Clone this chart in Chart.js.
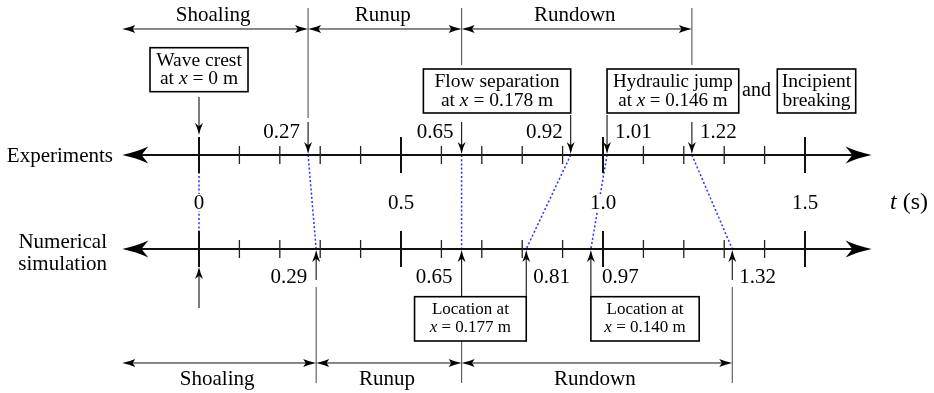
<!DOCTYPE html>
<html>
<head>
<meta charset="utf-8">
<script src="https://cdn.jsdelivr.net/npm/chart.js@4.4.0/dist/chart.umd.min.js"></script>
<style>
  html, body { margin: 0; padding: 0; background: #fff; }
</style>
</head>
<body>
<canvas id="timeline" width="934" height="393"></canvas>
<script>
// event times (s) on the two time lines
const expTimes = [0, 0.27, 0.65, 0.92, 1.01, 1.22];
const simTimes = [0, 0.29, 0.65, 0.81, 0.97, 1.32];
const expLabels = ['', '0.27', '0.65', '0.92', '1.01', '1.22'];
const simLabels = ['', '0.29', '0.65', '0.81', '0.97', '1.32'];

// phases and where they end
const phaseNames = ['Shoaling', 'Runup', 'Rundown'];
const expPhaseEnds = [0.27, 0.65, 1.22];
const simPhaseEnds = [0.29, 0.65, 1.32];

// time axis ticks
const majorTicks = [0, 0.5, 1.0, 1.5];
const majorTickLabels = ['0', '0.5', '1.0', '1.5'];
const minorTicks = [0.1, 0.2, 0.3, 0.4, 0.6, 0.7, 0.8, 0.9, 1.1, 1.2, 1.3, 1.4];
const axisSpan = [-0.19, 1.665];

// row value of each time line on the y scale
const ROW_EXP = 1;
const ROW_SIM = 0;

const SERIF = '"Liberation Serif", "Times New Roman", serif';

// dotted links between matching events
const links = expTimes.map((t, i) => ({
  data: [{ x: t, y: ROW_EXP }, { x: simTimes[i], y: ROW_SIM }],
  showLine: true,
  borderColor: '#2233ff',
  borderWidth: 1.5,
  borderDash: [2, 2.2],
  pointRadius: 0,
  fill: false
}));

function head(ctx, x, y, dx, dy, len, half, notch) {
  const px = -dy, py = dx;
  ctx.beginPath();
  ctx.moveTo(x, y);
  ctx.quadraticCurveTo(x - dx * len * 0.55 + px * half * 0.35, y - dy * len * 0.55 + py * half * 0.35,
                       x - dx * len + px * half, y - dy * len + py * half);
  ctx.lineTo(x - dx * len * notch, y - dy * len * notch);
  ctx.lineTo(x - dx * len - px * half, y - dy * len - py * half);
  ctx.quadraticCurveTo(x - dx * len * 0.55 - px * half * 0.35, y - dy * len * 0.55 - py * half * 0.35, x, y);
  ctx.closePath();
  ctx.fill();
}

function line(ctx, x1, y1, x2, y2, w, color) {
  ctx.strokeStyle = color || '#000';
  ctx.lineWidth = w;
  ctx.beginPath();
  ctx.moveTo(x1, y1);
  ctx.lineTo(x2, y2);
  ctx.stroke();
}

// vertical arrow from y1 to tip at y2
function vArrow(ctx, x, y1, y2) {
  line(ctx, x, y1, x, y2 + (y2 > y1 ? -4 : 4), 1.1, '#111');
  ctx.fillStyle = '#000';
  head(ctx, x, y2, 0, y2 > y1 ? 1 : -1, 12, 4, 0.72);
}

// text made of plain / italic runs
function runs(ctx, parts, x, y, size, align) {
  const fonts = parts.map(p => (p.it ? 'italic ' : '') + size + 'px ' + SERIF);
  const widths = parts.map((p, i) => { ctx.font = fonts[i]; return ctx.measureText(p.t).width; });
  const total = widths.reduce((a, b) => a + b, 0);
  let cx = align === 'center' ? x - total / 2 : align === 'right' ? x - total : x;
  ctx.textAlign = 'left';
  ctx.textBaseline = 'alphabetic';
  ctx.fillStyle = '#000';
  parts.forEach((p, i) => { ctx.font = fonts[i]; ctx.fillText(p.t, cx, y); cx += widths[i]; });
  return total;
}

function box(ctx, x, y, w, h, linesOfText, size, baselines) {
  ctx.strokeStyle = '#000';
  ctx.lineWidth = 1.6;
  ctx.strokeRect(x, y, w, h);
  linesOfText.forEach((parts, i) => runs(ctx, parts, x + w / 2, y + baselines[i], size, 'center'));
}

const timelinePlugin = {
  id: 'timeline',
  afterDatasetsDraw(chart) {
    const ctx = chart.ctx;
    const X = t => chart.scales.x.getPixelForValue(t);
    const yE = chart.scales.y.getPixelForValue(ROW_EXP);
    const yS = chart.scales.y.getPixelForValue(ROW_SIM);
    const x0 = X(axisSpan[0]), x1 = X(axisSpan[1]);
    ctx.save();

    // the two time lines
    [yE, yS].forEach(y => {
      line(ctx, x0 + 15, y, x1 - 15, y, 2, '#111');
      ctx.fillStyle = '#000';
      head(ctx, x0, y, -1, 0, 26, 8.5, 0.74);
      head(ctx, x1, y, 1, 0, 26, 8.5, 0.74);
      minorTicks.forEach(t => line(ctx, X(t), y - 9, X(t), y + 9, 1.3, '#222'));
      majorTicks.forEach(t => line(ctx, X(t), y - 18, X(t), y + 18, 2, '#111'));
    });

    // tick labels between the lines
    const mid = (yE + yS) / 2;
    ctx.font = '21px ' + SERIF;
    majorTicks.forEach((t, i) => {
      const w = ctx.measureText(majorTickLabels[i]).width;
      ctx.fillStyle = '#fff';
      ctx.fillRect(X(t) - w / 2 - 2, mid - 8, w + 4, 17);
      runs(ctx, [{ t: majorTickLabels[i] }], X(t), mid + 7, 21, 'center');
    });
    runs(ctx, [{ t: 't', it: true }, { t: ' (s)' }], 890, mid + 7, 24, 'left');

    // row names
    runs(ctx, [{ t: 'Experiments' }], 113, yE + 7, 21, 'right');
    runs(ctx, [{ t: 'Numerical' }], 107, yS - 0.5, 21, 'right');
    runs(ctx, [{ t: 'simulation' }], 107, yS + 21, 21, 'right');

    // event arrows, experiments (from above)
    const expStart = [-58, -33, -33, -40, -40, -33];
    expTimes.forEach((t, i) => {
      const x = X(t);
      const tip = i === 0 ? yE - 20 : yE - 1;
      vArrow(ctx, x, yE + expStart[i], tip);
      if (expLabels[i]) {
        const left = i <= 3;
        runs(ctx, [{ t: expLabels[i] }], left ? x - 8 : x + 8, yE - 17, 21, left ? 'right' : 'left');
      }
    });

    // event arrows, simulation (from below)
    const simStart = [59, 31, 47, 47, 47, 31];
    simTimes.forEach((t, i) => {
      const x = X(t);
      const tip = i === 0 ? yS + 18 : yS + 1;
      vArrow(ctx, x, yS + simStart[i], tip);
      if (simLabels[i]) {
        const left = i <= 2;
        runs(ctx, [{ t: simLabels[i] }], left ? x - 9 : x + (i === 4 ? 11 : 7), yS + 34, 21, left ? 'right' : 'left');
      }
    });

    // phase brackets
    const bracket = (ends, yb, yText, lineTop, lineBottoms) => {
      let from = x0;
      ends.forEach((t, i) => {
        const to = X(t);
        line(ctx, from + 6, yb, to - 6, yb, 1, '#111');
        ctx.fillStyle = '#000';
        head(ctx, from, yb, -1, 0, 13, 4, 0.8);
        head(ctx, to, yb, 1, 0, 13, 4, 0.8);
        runs(ctx, [{ t: phaseNames[i] }], (from + to) / 2 - 2, yText, 21, 'center');
        line(ctx, to, lineTop[i], to, lineBottoms[i], 1.1, '#555');
        from = to;
      });
    };
    bracket(expPhaseEnds, yE - 126, yE - 134,
      [yE - 147, yE - 147, yE - 147], [yE - 37, yE - 90, yE - 90]);
    bracket(simPhaseEnds, yS + 114, yS + 136,
      [yS + 38, yS + 92, yS + 38], [yS + 134, yS + 134, yS + 134]);

    // annotation boxes, top row
    const eq = v => [{ t: 'at ' }, { t: 'x', it: true }, { t: ' = ' + v + ' m' }];
    box(ctx, X(expTimes[0]) - 49, yE - 107.3, 98, 44,
      [[{ t: 'Wave crest' }], eq('0')], 19.5, [18.5, 36.8]);
    box(ctx, X(expTimes[3]) - 147.3, yE - 86, 147.3, 44,
      [[{ t: 'Flow separation' }], eq('0.178')], 19.5, [18.5, 37.5]);
    box(ctx, X(expTimes[4]), yE - 86, 131.7, 44,
      [[{ t: 'Hydraulic jump' }], eq('0.146')], 19, [18.5, 37.5]);
    runs(ctx, [{ t: 'and' }], 756.5, yE - 58.5, 20, 'center');
    box(ctx, 777.3, yE - 86, 78.4, 44,
      [[{ t: 'Incipient' }], [{ t: 'breaking' }]], 19.5, [18.5, 37.5]);

    // annotation boxes, bottom row
    const at = v => [{ t: 'x', it: true }, { t: ' = ' + v + ' m' }];
    box(ctx, X(simTimes[3]) - 111.7, yS + 47.7, 111.7, 44.3,
      [[{ t: 'Location at' }], at('0.177')], 17, [17.3, 35]);
    box(ctx, X(simTimes[4]), yS + 47.7, 108.3, 44.3,
      [[{ t: 'Location at' }], at('0.140')], 17, [17.3, 35]);

    ctx.restore();
  }
};

new Chart(document.getElementById('timeline').getContext('2d'), {
  type: 'scatter',
  data: { datasets: links },
  options: {
    responsive: false,
    animation: false,
    devicePixelRatio: 1,
    layout: { padding: 0 },
    plugins: { legend: { display: false }, tooltip: { enabled: false } },
    scales: {
      x: { type: 'linear', min: -0.4926, max: 1.8193, display: false },
      y: { type: 'linear', min: -1.5319, max: 2.6489, display: false }
    }
  },
  plugins: [timelinePlugin]
});
</script>
</body>
</html>
